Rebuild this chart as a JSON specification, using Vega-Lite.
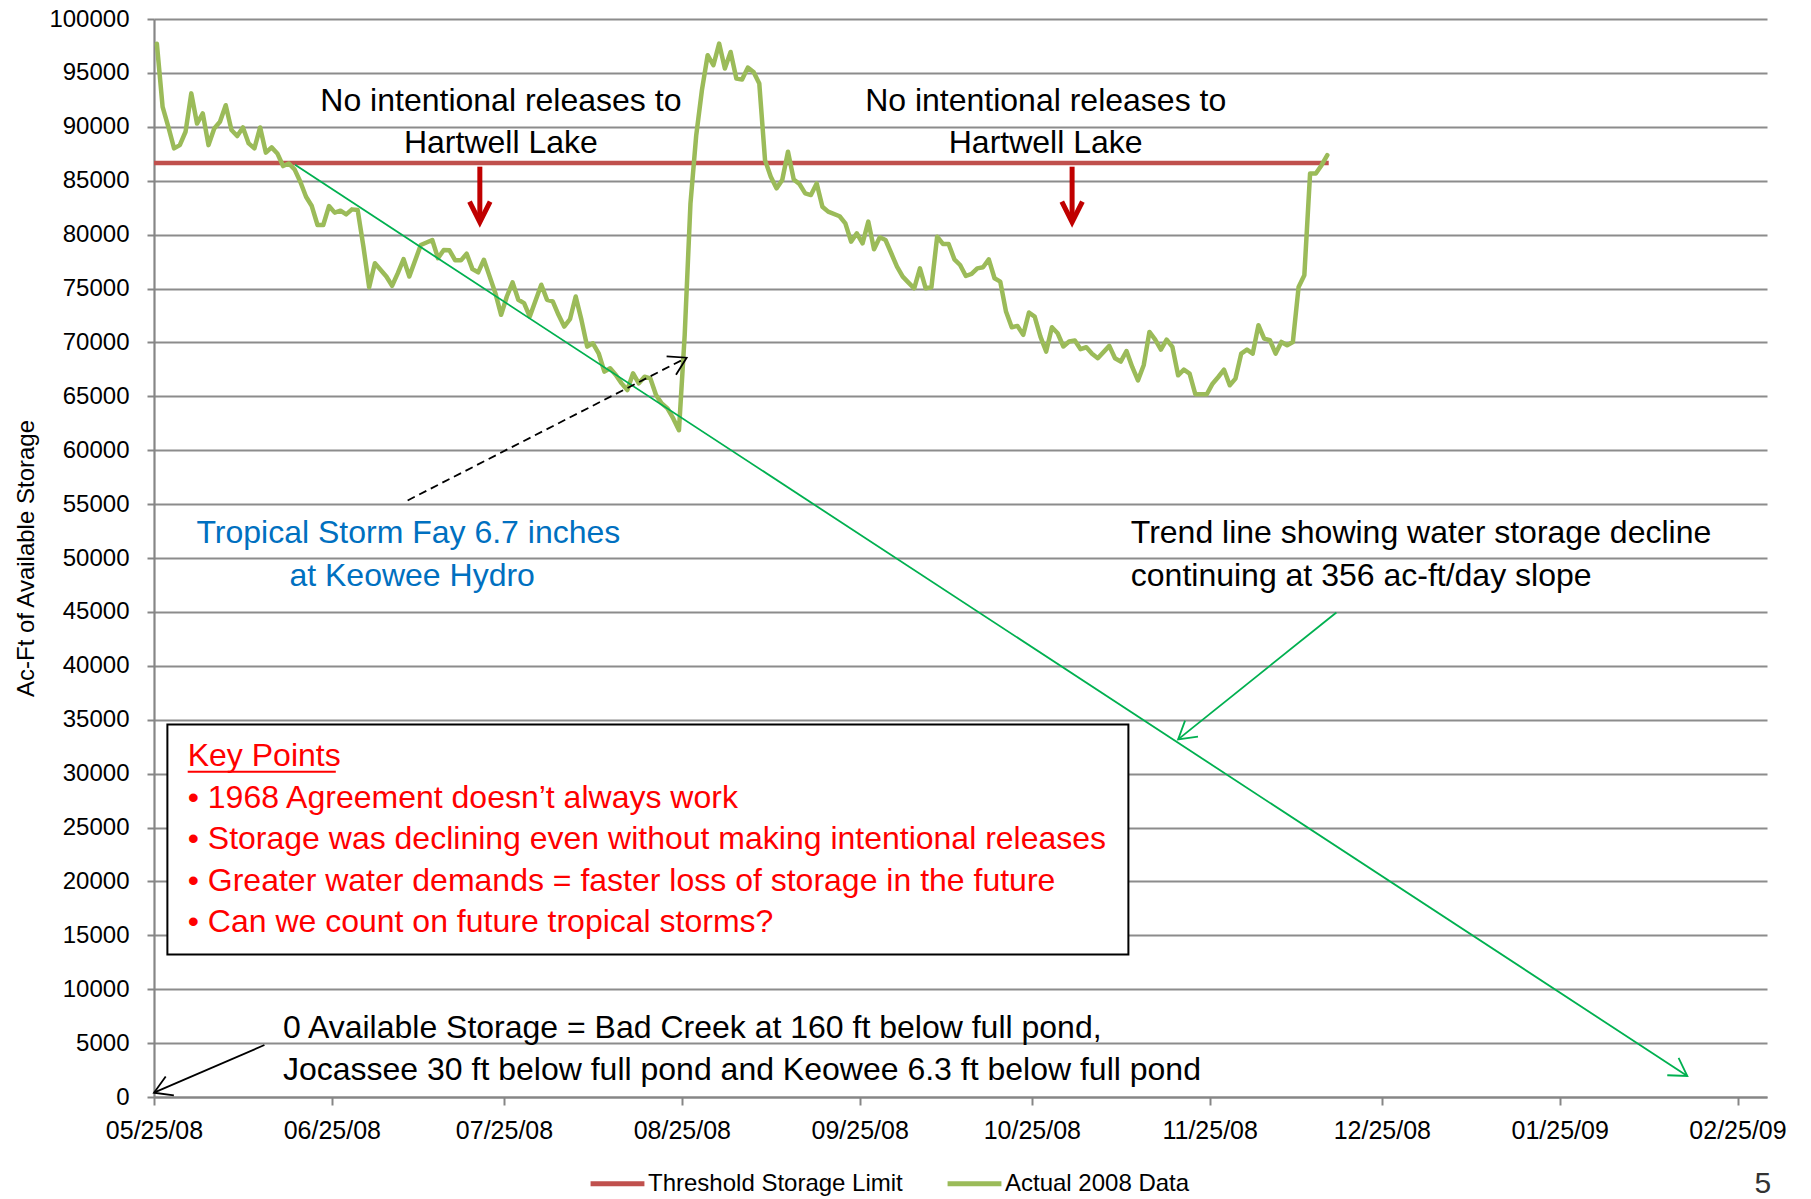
{
 "$schema": "https://vega.github.io/schema/vega-lite/v6.json",
 "width": 1613,
 "height": 1078,
 "autosize": {"type": "none"},
 "padding": {"left": 154, "top": 19, "right": 44, "bottom": 102},
 "background": "white",
 "config": {"font": "Liberation Sans", "view": {"stroke": null}},
 "datasets": {
  "threshold": [
   {"date": "2008-05-25T00:00:00", "value": 86650, "series": "Threshold Storage Limit"},
   {"date": "2008-12-15T18:00:00", "value": 86650, "series": "Threshold Storage Limit"}
  ],
  "actual": [
   {"date": "2008-05-25T12:00:00", "value": 97700, "series": "Actual 2008 Data"},
   {"date": "2008-05-26T12:00:00", "value": 91850, "series": "Actual 2008 Data"},
   {"date": "2008-05-27T12:00:00", "value": 90000, "series": "Actual 2008 Data"},
   {"date": "2008-05-28T12:00:00", "value": 88000, "series": "Actual 2008 Data"},
   {"date": "2008-05-29T12:00:00", "value": 88300, "series": "Actual 2008 Data"},
   {"date": "2008-05-30T12:00:00", "value": 89540, "series": "Actual 2008 Data"},
   {"date": "2008-05-31T12:00:00", "value": 93100, "series": "Actual 2008 Data"},
   {"date": "2008-06-01T12:00:00", "value": 90300, "series": "Actual 2008 Data"},
   {"date": "2008-06-02T12:00:00", "value": 91240, "series": "Actual 2008 Data"},
   {"date": "2008-06-03T12:00:00", "value": 88300, "series": "Actual 2008 Data"},
   {"date": "2008-06-04T12:00:00", "value": 89850, "series": "Actual 2008 Data"},
   {"date": "2008-06-05T12:00:00", "value": 90460, "series": "Actual 2008 Data"},
   {"date": "2008-06-06T12:00:00", "value": 92000, "series": "Actual 2008 Data"},
   {"date": "2008-06-07T12:00:00", "value": 89700, "series": "Actual 2008 Data"},
   {"date": "2008-06-08T12:00:00", "value": 89140, "series": "Actual 2008 Data"},
   {"date": "2008-06-09T12:00:00", "value": 89940, "series": "Actual 2008 Data"},
   {"date": "2008-06-10T12:00:00", "value": 88460, "series": "Actual 2008 Data"},
   {"date": "2008-06-11T12:00:00", "value": 88000, "series": "Actual 2008 Data"},
   {"date": "2008-06-12T12:00:00", "value": 89940, "series": "Actual 2008 Data"},
   {"date": "2008-06-13T12:00:00", "value": 87600, "series": "Actual 2008 Data"},
   {"date": "2008-06-14T12:00:00", "value": 88090, "series": "Actual 2008 Data"},
   {"date": "2008-06-15T12:00:00", "value": 87530, "series": "Actual 2008 Data"},
   {"date": "2008-06-16T12:00:00", "value": 86360, "series": "Actual 2008 Data"},
   {"date": "2008-06-17T12:00:00", "value": 86600, "series": "Actual 2008 Data"},
   {"date": "2008-06-18T12:00:00", "value": 86050, "series": "Actual 2008 Data"},
   {"date": "2008-06-19T12:00:00", "value": 84900, "series": "Actual 2008 Data"},
   {"date": "2008-06-20T12:00:00", "value": 83510, "series": "Actual 2008 Data"},
   {"date": "2008-06-21T12:00:00", "value": 82650, "series": "Actual 2008 Data"},
   {"date": "2008-06-22T12:00:00", "value": 80890, "series": "Actual 2008 Data"},
   {"date": "2008-06-23T12:00:00", "value": 80890, "series": "Actual 2008 Data"},
   {"date": "2008-06-24T12:00:00", "value": 82650, "series": "Actual 2008 Data"},
   {"date": "2008-06-25T12:00:00", "value": 82040, "series": "Actual 2008 Data"},
   {"date": "2008-06-26T12:00:00", "value": 82220, "series": "Actual 2008 Data"},
   {"date": "2008-06-27T12:00:00", "value": 81880, "series": "Actual 2008 Data"},
   {"date": "2008-06-28T12:00:00", "value": 82340, "series": "Actual 2008 Data"},
   {"date": "2008-06-29T12:00:00", "value": 82280, "series": "Actual 2008 Data"},
   {"date": "2008-06-30T12:00:00", "value": 78890, "series": "Actual 2008 Data"},
   {"date": "2008-07-01T12:00:00", "value": 75120, "series": "Actual 2008 Data"},
   {"date": "2008-07-02T12:00:00", "value": 77350, "series": "Actual 2008 Data"},
   {"date": "2008-07-04T12:00:00", "value": 76110, "series": "Actual 2008 Data"},
   {"date": "2008-07-05T12:00:00", "value": 75250, "series": "Actual 2008 Data"},
   {"date": "2008-07-06T12:00:00", "value": 76420, "series": "Actual 2008 Data"},
   {"date": "2008-07-07T12:00:00", "value": 77720, "series": "Actual 2008 Data"},
   {"date": "2008-07-08T12:00:00", "value": 76110, "series": "Actual 2008 Data"},
   {"date": "2008-07-10T12:00:00", "value": 79040, "series": "Actual 2008 Data"},
   {"date": "2008-07-12T12:00:00", "value": 79500, "series": "Actual 2008 Data"},
   {"date": "2008-07-13T12:00:00", "value": 77810, "series": "Actual 2008 Data"},
   {"date": "2008-07-14T12:00:00", "value": 78580, "series": "Actual 2008 Data"},
   {"date": "2008-07-15T12:00:00", "value": 78540, "series": "Actual 2008 Data"},
   {"date": "2008-07-16T12:00:00", "value": 77610, "series": "Actual 2008 Data"},
   {"date": "2008-07-17T12:00:00", "value": 77610, "series": "Actual 2008 Data"},
   {"date": "2008-07-18T12:00:00", "value": 78230, "series": "Actual 2008 Data"},
   {"date": "2008-07-19T12:00:00", "value": 76800, "series": "Actual 2008 Data"},
   {"date": "2008-07-20T12:00:00", "value": 76500, "series": "Actual 2008 Data"},
   {"date": "2008-07-21T12:00:00", "value": 77670, "series": "Actual 2008 Data"},
   {"date": "2008-07-23T12:00:00", "value": 74570, "series": "Actual 2008 Data"},
   {"date": "2008-07-24T12:00:00", "value": 72560, "series": "Actual 2008 Data"},
   {"date": "2008-07-25T12:00:00", "value": 74260, "series": "Actual 2008 Data"},
   {"date": "2008-07-26T12:00:00", "value": 75570, "series": "Actual 2008 Data"},
   {"date": "2008-07-27T12:00:00", "value": 73950, "series": "Actual 2008 Data"},
   {"date": "2008-07-28T12:00:00", "value": 73640, "series": "Actual 2008 Data"},
   {"date": "2008-07-29T12:00:00", "value": 72400, "series": "Actual 2008 Data"},
   {"date": "2008-07-31T12:00:00", "value": 75350, "series": "Actual 2008 Data"},
   {"date": "2008-08-01T12:00:00", "value": 73950, "series": "Actual 2008 Data"},
   {"date": "2008-08-02T12:00:00", "value": 73800, "series": "Actual 2008 Data"},
   {"date": "2008-08-03T12:00:00", "value": 72560, "series": "Actual 2008 Data"},
   {"date": "2008-08-04T12:00:00", "value": 71470, "series": "Actual 2008 Data"},
   {"date": "2008-08-05T12:00:00", "value": 72150, "series": "Actual 2008 Data"},
   {"date": "2008-08-06T12:00:00", "value": 74260, "series": "Actual 2008 Data"},
   {"date": "2008-08-07T12:00:00", "value": 72090, "series": "Actual 2008 Data"},
   {"date": "2008-08-08T12:00:00", "value": 69610, "series": "Actual 2008 Data"},
   {"date": "2008-08-09T12:00:00", "value": 69920, "series": "Actual 2008 Data"},
   {"date": "2008-08-10T12:00:00", "value": 68990, "series": "Actual 2008 Data"},
   {"date": "2008-08-11T12:00:00", "value": 67290, "series": "Actual 2008 Data"},
   {"date": "2008-08-12T12:00:00", "value": 67600, "series": "Actual 2008 Data"},
   {"date": "2008-08-13T12:00:00", "value": 66980, "series": "Actual 2008 Data"},
   {"date": "2008-08-14T12:00:00", "value": 66200, "series": "Actual 2008 Data"},
   {"date": "2008-08-15T12:00:00", "value": 65580, "series": "Actual 2008 Data"},
   {"date": "2008-08-16T12:00:00", "value": 67130, "series": "Actual 2008 Data"},
   {"date": "2008-08-17T12:00:00", "value": 66200, "series": "Actual 2008 Data"},
   {"date": "2008-08-18T12:00:00", "value": 66820, "series": "Actual 2008 Data"},
   {"date": "2008-08-19T12:00:00", "value": 66670, "series": "Actual 2008 Data"},
   {"date": "2008-08-20T12:00:00", "value": 65120, "series": "Actual 2008 Data"},
   {"date": "2008-08-21T12:00:00", "value": 64340, "series": "Actual 2008 Data"},
   {"date": "2008-08-22T12:00:00", "value": 63880, "series": "Actual 2008 Data"},
   {"date": "2008-08-23T12:00:00", "value": 62950, "series": "Actual 2008 Data"},
   {"date": "2008-08-24T12:00:00", "value": 61860, "series": "Actual 2008 Data"},
   {"date": "2008-08-25T12:00:00", "value": 70700, "series": "Actual 2008 Data"},
   {"date": "2008-08-26T12:00:00", "value": 82850, "series": "Actual 2008 Data"},
   {"date": "2008-08-27T12:00:00", "value": 89170, "series": "Actual 2008 Data"},
   {"date": "2008-08-28T12:00:00", "value": 93400, "series": "Actual 2008 Data"},
   {"date": "2008-08-29T12:00:00", "value": 96640, "series": "Actual 2008 Data"},
   {"date": "2008-08-30T12:00:00", "value": 95710, "series": "Actual 2008 Data"},
   {"date": "2008-08-31T12:00:00", "value": 97720, "series": "Actual 2008 Data"},
   {"date": "2008-09-01T12:00:00", "value": 95400, "series": "Actual 2008 Data"},
   {"date": "2008-09-02T12:00:00", "value": 96940, "series": "Actual 2008 Data"},
   {"date": "2008-09-03T12:00:00", "value": 94480, "series": "Actual 2008 Data"},
   {"date": "2008-09-04T12:00:00", "value": 94380, "series": "Actual 2008 Data"},
   {"date": "2008-09-05T12:00:00", "value": 95490, "series": "Actual 2008 Data"},
   {"date": "2008-09-06T12:00:00", "value": 95090, "series": "Actual 2008 Data"},
   {"date": "2008-09-07T12:00:00", "value": 94010, "series": "Actual 2008 Data"},
   {"date": "2008-09-08T12:00:00", "value": 86910, "series": "Actual 2008 Data"},
   {"date": "2008-09-09T12:00:00", "value": 85370, "series": "Actual 2008 Data"},
   {"date": "2008-09-10T12:00:00", "value": 84290, "series": "Actual 2008 Data"},
   {"date": "2008-09-11T12:00:00", "value": 85060, "series": "Actual 2008 Data"},
   {"date": "2008-09-12T12:00:00", "value": 87690, "series": "Actual 2008 Data"},
   {"date": "2008-09-13T12:00:00", "value": 85120, "series": "Actual 2008 Data"},
   {"date": "2008-09-14T12:00:00", "value": 84690, "series": "Actual 2008 Data"},
   {"date": "2008-09-15T12:00:00", "value": 83830, "series": "Actual 2008 Data"},
   {"date": "2008-09-16T12:00:00", "value": 83670, "series": "Actual 2008 Data"},
   {"date": "2008-09-17T12:00:00", "value": 84750, "series": "Actual 2008 Data"},
   {"date": "2008-09-18T12:00:00", "value": 82590, "series": "Actual 2008 Data"},
   {"date": "2008-09-19T12:00:00", "value": 82130, "series": "Actual 2008 Data"},
   {"date": "2008-09-21T12:00:00", "value": 81700, "series": "Actual 2008 Data"},
   {"date": "2008-09-22T12:00:00", "value": 81040, "series": "Actual 2008 Data"},
   {"date": "2008-09-23T12:00:00", "value": 79350, "series": "Actual 2008 Data"},
   {"date": "2008-09-24T12:00:00", "value": 80120, "series": "Actual 2008 Data"},
   {"date": "2008-09-25T12:00:00", "value": 79190, "series": "Actual 2008 Data"},
   {"date": "2008-09-26T12:00:00", "value": 81200, "series": "Actual 2008 Data"},
   {"date": "2008-09-27T12:00:00", "value": 78640, "series": "Actual 2008 Data"},
   {"date": "2008-09-28T12:00:00", "value": 79750, "series": "Actual 2008 Data"},
   {"date": "2008-09-29T12:00:00", "value": 79500, "series": "Actual 2008 Data"},
   {"date": "2008-09-30T12:00:00", "value": 78270, "series": "Actual 2008 Data"},
   {"date": "2008-10-01T12:00:00", "value": 77030, "series": "Actual 2008 Data"},
   {"date": "2008-10-02T12:00:00", "value": 76100, "series": "Actual 2008 Data"},
   {"date": "2008-10-03T12:00:00", "value": 75550, "series": "Actual 2008 Data"},
   {"date": "2008-10-04T12:00:00", "value": 75020, "series": "Actual 2008 Data"},
   {"date": "2008-10-05T12:00:00", "value": 76870, "series": "Actual 2008 Data"},
   {"date": "2008-10-06T12:00:00", "value": 75020, "series": "Actual 2008 Data"},
   {"date": "2008-10-07T12:00:00", "value": 75110, "series": "Actual 2008 Data"},
   {"date": "2008-10-08T12:00:00", "value": 79810, "series": "Actual 2008 Data"},
   {"date": "2008-10-09T12:00:00", "value": 79130, "series": "Actual 2008 Data"},
   {"date": "2008-10-10T12:00:00", "value": 79130, "series": "Actual 2008 Data"},
   {"date": "2008-10-11T12:00:00", "value": 77710, "series": "Actual 2008 Data"},
   {"date": "2008-10-12T12:00:00", "value": 77180, "series": "Actual 2008 Data"},
   {"date": "2008-10-13T12:00:00", "value": 76160, "series": "Actual 2008 Data"},
   {"date": "2008-10-14T12:00:00", "value": 76350, "series": "Actual 2008 Data"},
   {"date": "2008-10-15T12:00:00", "value": 76870, "series": "Actual 2008 Data"},
   {"date": "2008-10-16T12:00:00", "value": 76970, "series": "Actual 2008 Data"},
   {"date": "2008-10-17T12:00:00", "value": 77710, "series": "Actual 2008 Data"},
   {"date": "2008-10-18T12:00:00", "value": 75950, "series": "Actual 2008 Data"},
   {"date": "2008-10-19T12:00:00", "value": 75640, "series": "Actual 2008 Data"},
   {"date": "2008-10-20T12:00:00", "value": 72860, "series": "Actual 2008 Data"},
   {"date": "2008-10-21T12:00:00", "value": 71410, "series": "Actual 2008 Data"},
   {"date": "2008-10-22T12:00:00", "value": 71530, "series": "Actual 2008 Data"},
   {"date": "2008-10-23T12:00:00", "value": 70700, "series": "Actual 2008 Data"},
   {"date": "2008-10-24T12:00:00", "value": 72770, "series": "Actual 2008 Data"},
   {"date": "2008-10-25T12:00:00", "value": 72400, "series": "Actual 2008 Data"},
   {"date": "2008-10-26T12:00:00", "value": 70540, "series": "Actual 2008 Data"},
   {"date": "2008-10-27T12:00:00", "value": 69150, "series": "Actual 2008 Data"},
   {"date": "2008-10-28T12:00:00", "value": 71410, "series": "Actual 2008 Data"},
   {"date": "2008-10-29T12:00:00", "value": 70850, "series": "Actual 2008 Data"},
   {"date": "2008-10-30T12:00:00", "value": 69620, "series": "Actual 2008 Data"},
   {"date": "2008-10-31T12:00:00", "value": 70080, "series": "Actual 2008 Data"},
   {"date": "2008-11-01T12:00:00", "value": 70170, "series": "Actual 2008 Data"},
   {"date": "2008-11-02T12:00:00", "value": 69370, "series": "Actual 2008 Data"},
   {"date": "2008-11-03T12:00:00", "value": 69550, "series": "Actual 2008 Data"},
   {"date": "2008-11-04T12:00:00", "value": 68940, "series": "Actual 2008 Data"},
   {"date": "2008-11-05T12:00:00", "value": 68530, "series": "Actual 2008 Data"},
   {"date": "2008-11-07T12:00:00", "value": 69680, "series": "Actual 2008 Data"},
   {"date": "2008-11-08T12:00:00", "value": 68530, "series": "Actual 2008 Data"},
   {"date": "2008-11-09T12:00:00", "value": 68220, "series": "Actual 2008 Data"},
   {"date": "2008-11-10T12:00:00", "value": 69200, "series": "Actual 2008 Data"},
   {"date": "2008-11-11T12:00:00", "value": 67720, "series": "Actual 2008 Data"},
   {"date": "2008-11-12T12:00:00", "value": 66480, "series": "Actual 2008 Data"},
   {"date": "2008-11-13T12:00:00", "value": 67880, "series": "Actual 2008 Data"},
   {"date": "2008-11-14T12:00:00", "value": 70970, "series": "Actual 2008 Data"},
   {"date": "2008-11-15T12:00:00", "value": 70260, "series": "Actual 2008 Data"},
   {"date": "2008-11-16T12:00:00", "value": 69330, "series": "Actual 2008 Data"},
   {"date": "2008-11-17T12:00:00", "value": 70260, "series": "Actual 2008 Data"},
   {"date": "2008-11-18T12:00:00", "value": 69580, "series": "Actual 2008 Data"},
   {"date": "2008-11-19T12:00:00", "value": 66950, "series": "Actual 2008 Data"},
   {"date": "2008-11-20T12:00:00", "value": 67470, "series": "Actual 2008 Data"},
   {"date": "2008-11-21T12:00:00", "value": 67100, "series": "Actual 2008 Data"},
   {"date": "2008-11-22T12:00:00", "value": 65190, "series": "Actual 2008 Data"},
   {"date": "2008-11-23T12:00:00", "value": 65190, "series": "Actual 2008 Data"},
   {"date": "2008-11-24T12:00:00", "value": 65190, "series": "Actual 2008 Data"},
   {"date": "2008-11-25T12:00:00", "value": 66170, "series": "Actual 2008 Data"},
   {"date": "2008-11-26T12:00:00", "value": 66790, "series": "Actual 2008 Data"},
   {"date": "2008-11-27T12:00:00", "value": 67470, "series": "Actual 2008 Data"},
   {"date": "2008-11-28T12:00:00", "value": 66020, "series": "Actual 2008 Data"},
   {"date": "2008-11-29T12:00:00", "value": 66640, "series": "Actual 2008 Data"},
   {"date": "2008-11-30T12:00:00", "value": 68960, "series": "Actual 2008 Data"},
   {"date": "2008-12-01T12:00:00", "value": 69330, "series": "Actual 2008 Data"},
   {"date": "2008-12-02T12:00:00", "value": 68960, "series": "Actual 2008 Data"},
   {"date": "2008-12-03T12:00:00", "value": 71590, "series": "Actual 2008 Data"},
   {"date": "2008-12-04T12:00:00", "value": 70350, "series": "Actual 2008 Data"},
   {"date": "2008-12-05T12:00:00", "value": 70200, "series": "Actual 2008 Data"},
   {"date": "2008-12-06T12:00:00", "value": 68960, "series": "Actual 2008 Data"},
   {"date": "2008-12-07T12:00:00", "value": 70040, "series": "Actual 2008 Data"},
   {"date": "2008-12-08T12:00:00", "value": 69730, "series": "Actual 2008 Data"},
   {"date": "2008-12-09T12:00:00", "value": 70040, "series": "Actual 2008 Data"},
   {"date": "2008-12-10T12:00:00", "value": 75150, "series": "Actual 2008 Data"},
   {"date": "2008-12-11T12:00:00", "value": 76230, "series": "Actual 2008 Data"},
   {"date": "2008-12-12T12:00:00", "value": 85670, "series": "Actual 2008 Data"},
   {"date": "2008-12-13T12:00:00", "value": 85670, "series": "Actual 2008 Data"},
   {"date": "2008-12-14T12:00:00", "value": 86440, "series": "Actual 2008 Data"},
   {"date": "2008-12-15T12:00:00", "value": 87370, "series": "Actual 2008 Data"}
  ]
 },
 "encoding": {
  "x": {
   "field": "date", "type": "temporal",
   "scale": {"domain": [{"year": 2008, "month": 5, "date": 25}, {"year": 2009, "month": 3, "date": 2, "hours": 3, "minutes": 20}], "nice": false},
   "axis": {
    "values": [
     {"year": 2008, "month": 5, "date": 25}, {"year": 2008, "month": 6, "date": 25}, {"year": 2008, "month": 7, "date": 25},
     {"year": 2008, "month": 8, "date": 25}, {"year": 2008, "month": 9, "date": 25}, {"year": 2008, "month": 10, "date": 25},
     {"year": 2008, "month": 11, "date": 25}, {"year": 2008, "month": 12, "date": 25}, {"year": 2009, "month": 1, "date": 25},
     {"year": 2009, "month": 2, "date": 25}
    ],
    "format": "%m/%d/%y", "title": null, "grid": false,
    "labelFontSize": 25, "labelColor": "#000000", "labelPadding": 13, "labelFlush": false, "labelOverlap": false,
    "tickSize": 8, "tickColor": "#868686", "tickWidth": 2,
    "domainColor": "#868686", "domainWidth": 2.2
   }
  },
  "y": {
   "field": "value", "type": "quantitative",
   "scale": {"domain": [0, 100000], "nice": false},
   "axis": {
    "values": [0, 5000, 10000, 15000, 20000, 25000, 30000, 35000, 40000, 45000, 50000, 55000, 60000, 65000, 70000, 75000, 80000, 85000, 90000, 95000, 100000],
    "format": "d", "title": "Ac-Ft of Available Storage",
    "titleFontSize": 24, "titleFontWeight": "normal", "titleColor": "#000000", "titlePadding": 10,
    "labelFontSize": 24, "labelColor": "#000000", "labelPadding": 18, "labelFlush": false,
    "tickSize": 7, "tickColor": "#868686", "tickWidth": 2,
    "domainColor": "#868686", "domainWidth": 2.2,
    "grid": true, "gridColor": "#8c8c8c", "gridWidth": 1.8
   }
  }
 },
 "layer": [
  {
   "data": {"name": "threshold"},
   "mark": {"type": "line", "strokeWidth": 4.5, "strokeCap": "butt"},
   "encoding": {
    "color": {
     "field": "series", "type": "nominal",
     "scale": {"domain": ["Threshold Storage Limit", "Actual 2008 Data"], "range": ["#C0504D", "#9BBB59"]},
     "legend": {"orient": "none", "legendX": 434, "legendY": 1135, "direction": "horizontal", "title": null,
      "symbolType": "stroke", "symbolSize": 2900, "symbolStrokeWidth": 5,
      "labelFontSize": 24, "labelColor": "#000000", "labelOffset": 1, "columnPadding": 34, "labelLimit": 400}
    }
   }
  },
  {
   "data": {"name": "actual"},
   "mark": {"type": "line", "strokeWidth": 4.5, "strokeJoin": "round", "strokeCap": "round"},
   "encoding": {"color": {"field": "series", "type": "nominal"}}
  },
  {
   "data": {"values": [{"date": "2008-06-18T14:00:00", "value": 86470, "date2": "2009-02-16T06:00:00", "value2": 1947}]},
   "mark": {"type": "rule", "color": "#00B050", "strokeWidth": 1.8},
   "encoding": {"x2": {"field": "date2"}, "y2": {"field": "value2"}}
  },
  {
   "data": {"values": [{"date": "2008-12-17T02:00:00", "value": 44947, "date2": "2008-11-19T12:00:00", "value2": 33172}]},
   "mark": {"type": "rule", "color": "#00B050", "strokeWidth": 1.8},
   "encoding": {"x2": {"field": "date2"}, "y2": {"field": "value2"}}
  },
  {
   "data": {"values": [{"date": "2008-07-08T05:00:00", "value": 55340, "date2": "2008-08-25T20:00:00", "value2": 68580}]},
   "mark": {"type": "rule", "color": "#000000", "strokeWidth": 1.8, "strokeDash": [8, 5]},
   "encoding": {"x2": {"field": "date2"}, "y2": {"field": "value2"}}
  },
  {
   "data": {"values": [{"date": "2008-06-13T06:00:00", "value": 4821, "date2": "2008-05-25T00:00:00", "value2": 400}]},
   "mark": {"type": "rule", "color": "#000000", "strokeWidth": 1.8},
   "encoding": {"x2": {"field": "date2"}, "y2": {"field": "value2"}}
  },
  {
   "data": {"values": [{"date": "2008-07-20T19:00:00", "value": 86300, "value2": 81400}, {"date": "2008-11-01T00:30:00", "value": 86300, "value2": 81400}]},
   "mark": {"type": "rule", "color": "#C00000", "strokeWidth": 5},
   "encoding": {"y2": {"field": "value2"}}
  },
  {
   "data": {"values": [{"date": "2008-07-20T19:00:00", "value": 81150}, {"date": "2008-11-01T00:30:00", "value": 81150}]},
   "mark": {"type": "point", "shape": "M -1 -0.5 L 0 0 L -1 0.5", "angle": 90, "size": 1697, "filled": false, "color": "#C00000", "strokeWidth": 5, "opacity": 1, "strokeJoin": "miter"},
   "encoding": {}
  },
  {
   "data": {"values": [{"date": "2009-02-16T06:00:00", "value": 1947}]},
   "mark": {"type": "point", "shape": "M -1 -0.6 L 0 0 L -1 0.6", "angle": 33.2, "size": 1183, "filled": false, "color": "#00B050", "strokeWidth": 1.8, "opacity": 1},
   "encoding": {}
  },
  {
   "data": {"values": [{"date": "2008-11-19T12:00:00", "value": 33172}]},
   "mark": {"type": "point", "shape": "M -1 -0.6 L 0 0 L -1 0.6", "angle": 141.2, "size": 1183, "filled": false, "color": "#00B050", "strokeWidth": 1.8, "opacity": 1},
   "encoding": {}
  },
  {
   "data": {"values": [{"date": "2008-08-25T20:00:00", "value": 68580}]},
   "mark": {"type": "point", "shape": "M -1 -0.6 L 0 0 L -1 0.6", "angle": 332.9, "size": 1183, "filled": false, "color": "#000000", "strokeWidth": 1.8, "opacity": 1},
   "encoding": {}
  },
  {
   "data": {"values": [{"date": "2008-05-25T00:00:00", "value": 400}]},
   "mark": {"type": "point", "shape": "M -1 -0.6 L 0 0 L -1 0.6", "angle": 156.7, "size": 1183, "filled": false, "color": "#000000", "strokeWidth": 1.8, "opacity": 1},
   "encoding": {}
  },
  {
   "data": {"values": [{"date": "2008-05-27T08:00:00", "value": 34554, "date2": "2008-11-10T20:00:00", "value2": 13230}]},
   "mark": {"type": "rect", "fill": "#FFFFFF", "stroke": "#000000", "strokeWidth": 2},
   "encoding": {"x2": {"field": "date2"}, "y2": {"field": "value2"}}
  },
  {
   "data": {"values": [
    {"date": "2008-07-24T11:00:00", "value": 91507, "label": "No intentional releases to"},
    {"date": "2008-07-24T11:00:00", "value": 87549, "label": "Hartwell Lake"},
    {"date": "2008-10-27T10:00:00", "value": 91507, "label": "No intentional releases to"},
    {"date": "2008-10-27T10:00:00", "value": 87549, "label": "Hartwell Lake"}
   ]},
   "mark": {"type": "text", "align": "center", "baseline": "alphabetic", "fontSize": 32, "color": "#000000"},
   "encoding": {"text": {"field": "label"}}
  },
  {
   "data": {"values": [
    {"date": "2008-07-08T08:00:00", "value": 51363, "label": "Tropical Storm Fay 6.7 inches"},
    {"date": "2008-07-09T00:00:00", "value": 47413, "label": "at Keowee Hydro"}
   ]},
   "mark": {"type": "text", "align": "center", "baseline": "alphabetic", "fontSize": 32, "color": "#0070C0"},
   "encoding": {"text": {"field": "label"}}
  },
  {
   "data": {"values": [
    {"date": "2008-11-11T06:00:00", "value": 51363, "label": "Trend line showing water storage decline"},
    {"date": "2008-11-11T06:00:00", "value": 47413, "label": "continuing at 356 ac-ft/day slope"},
    {"date": "2008-06-16T11:30:00", "value": 5442, "label": "0 Available Storage = Bad Creek at 160 ft below full pond,"},
    {"date": "2008-06-16T11:30:00", "value": 1576, "label": "Jocassee 30 ft below full pond and Keowee 6.3 ft below full pond"}
   ]},
   "mark": {"type": "text", "align": "left", "baseline": "alphabetic", "fontSize": 32, "color": "#000000"},
   "encoding": {"text": {"field": "label"}}
  },
  {
   "data": {"values": [
    {"date": "2008-05-30T21:00:00", "value": 30688, "label": "Key Points"},
    {"date": "2008-05-30T21:00:00", "value": 26766, "label": "• 1968 Agreement doesn’t always work"},
    {"date": "2008-05-30T21:00:00", "value": 22993, "label": "• Storage was declining even without making intentional releases"},
    {"date": "2008-05-30T21:00:00", "value": 19117, "label": "• Greater water demands = faster loss of storage in the future"},
    {"date": "2008-05-30T21:00:00", "value": 15344, "label": "• Can we count on future tropical storms?"}
   ]},
   "mark": {"type": "text", "align": "left", "baseline": "alphabetic", "fontSize": 32, "color": "#FF0000"},
   "encoding": {"text": {"field": "label"}}
  },
  {
   "data": {"values": [{"date": "2008-05-30T21:00:00", "value": 30178, "date2": "2008-06-25T16:30:00"}]},
   "mark": {"type": "rule", "color": "#FF0000", "strokeWidth": 2},
   "encoding": {"x2": {"field": "date2"}}
  },
  {
   "data": {"values": [{"date": "2009-03-01T10:00:00", "value": -8900, "label": "5"}]},
   "mark": {"type": "text", "align": "center", "baseline": "alphabetic", "fontSize": 30, "color": "#333333"},
   "encoding": {"text": {"field": "label"}}
  }
 ]
}
